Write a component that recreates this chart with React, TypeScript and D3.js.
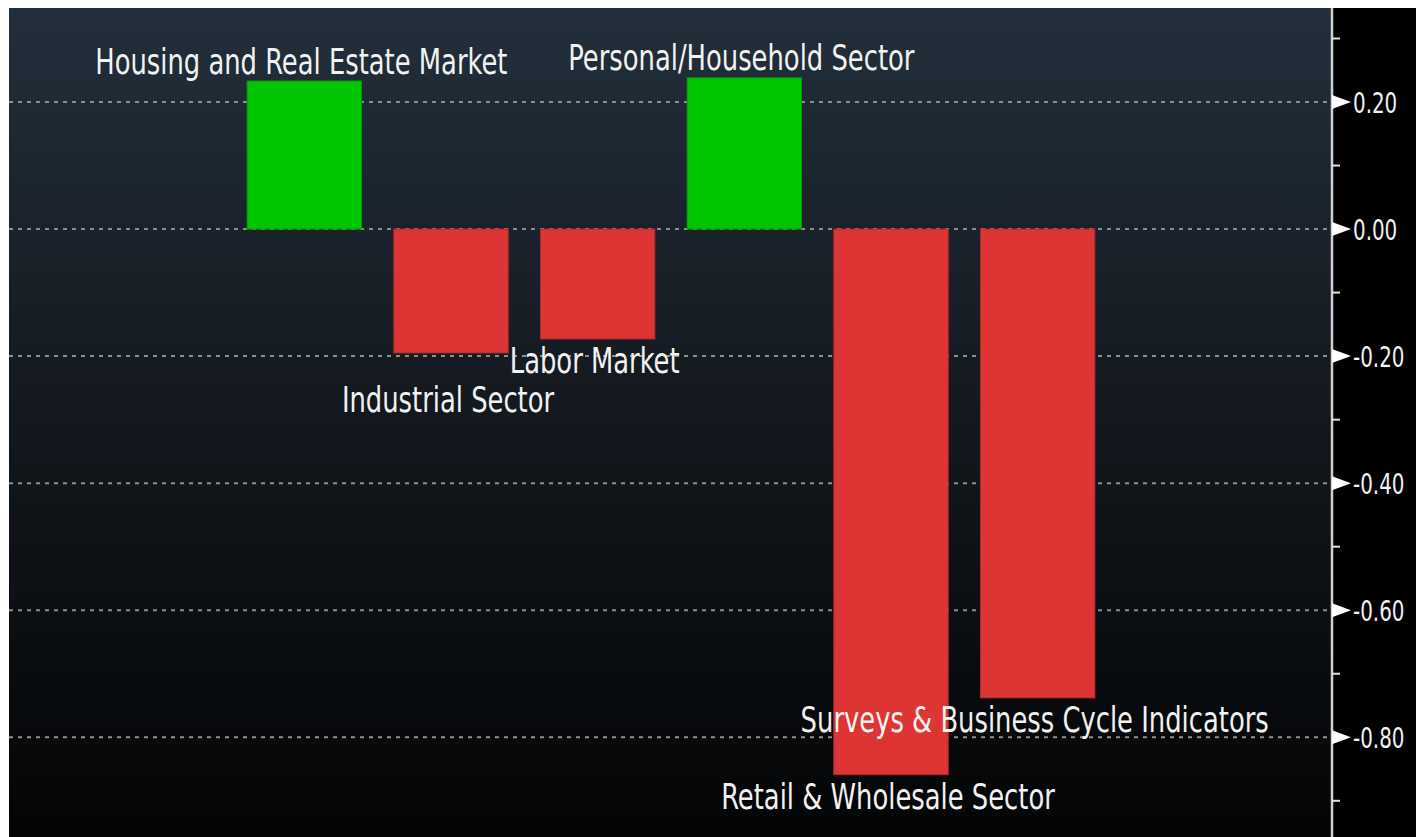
import React from 'react';
import * as d3 from 'd3';

// values
const categories = [
  'Housing and Real Estate Market',
  'Industrial Sector',
  'Labor Market',
  'Personal/Household Sector',
  'Retail & Wholesale Sector',
  'Surveys & Business Cycle Indicators',
];
const values = [0.233, -0.195, -0.173, 0.238, -0.859, -0.738];
const majorTicks = [0.2, 0, -0.2, -0.4, -0.6, -0.8];
const minorTicks = [0.3, 0.1, -0.1, -0.3, -0.5, -0.7, -0.9];

const W = 1416;
const H = 837;
const plot = { left: 9, top: 8, right: 1332, bottom: 837 };

// no narrow font installed, so squeeze the condensed one horizontally
const FONT = '"DejaVu Sans Condensed", "DejaVu Sans", sans-serif';
const SQUEEZE = 0.82;
const fmt = d3.formatLocale({
  decimal: '.',
  thousands: ',',
  grouping: [3],
  currency: ['$', ''],
  minus: '-',
}).format('.2f');

export default function App() {
  const x = d3.scaleBand()
    .domain(categories)
    .range([231, 1111])
    .paddingInner(0.22)
    .paddingOuter(0.11);

  const y = d3.scaleLinear()
    .domain([-0.957, 0.348])
    .range([plot.bottom, plot.top]);

  const color = (v) => (v >= 0 ? '#00c600' : '#dd3434');
  const stroke = (v) => (v >= 0 ? '#0a9a0a' : '#b42828');

  // label placement: above positive bars, below negative ones, pushed apart when they collide
  const lineStep = 39;
  const labels = categories.map((c, i) => {
    const v = values[i];
    const cx = x(c) + x.bandwidth() / 2 - 3;
    const w = c.length * 14;
    const yy = v >= 0 ? y(v) - 7.5 : y(v) + 34;
    return { text: c, v, cx, x0: cx - w / 2, x1: cx + w / 2, y: yy };
  });
  const placed = [];
  labels
    .filter((l) => l.v < 0)
    .sort((a, b) => a.y - b.y)
    .forEach((l) => {
      placed.forEach((p) => {
        const overlapX = l.x0 < p.x1 && l.x1 > p.x0;
        if (overlapX && Math.abs(l.y - p.y) < lineStep) l.y = p.y + lineStep;
      });
      placed.push(l);
    });

  const zeroY = y(0);

  return (
    <svg
      width={W}
      height={H}
      style={{ position: 'fixed', left: 0, top: 0, display: 'block' }}
    >
      <defs>
        <linearGradient id="bg" x1="0" y1="0" x2="0" y2="1">
          <stop offset="0%" stopColor="#222f3b" />
          <stop offset="45%" stopColor="#141a20" />
          <stop offset="100%" stopColor="#030405" />
        </linearGradient>
      </defs>
      <rect x={0} y={0} width={W} height={H} fill="#ffffff" />
      <rect
        x={plot.left}
        y={plot.top}
        width={plot.right - plot.left}
        height={plot.bottom - plot.top}
        fill="url(#bg)"
      />
      <rect x={plot.right} y={plot.top} width={W - plot.right} height={H - plot.top} fill="#000000" />

      {/* grid */}
      {majorTicks.map((t) => (
        <line
          key={'g' + t}
          x1={plot.left}
          x2={plot.right}
          y1={y(t)}
          y2={y(t)}
          stroke="#8e8e8e"
          strokeWidth={2}
          strokeDasharray="4 5"
        />
      ))}

      {/* bars */}
      {categories.map((c, i) => {
        const v = values[i];
        const y0 = Math.min(y(v), zeroY);
        return (
          <rect
            key={c}
            x={x(c)}
            y={y0}
            width={x.bandwidth()}
            height={Math.abs(y(v) - zeroY)}
            fill={color(v)}
            stroke={stroke(v)}
            strokeWidth={1}
          />
        );
      })}

      {/* bar labels */}
      {labels.map((l) => (
        <text
          key={'l' + l.text}
          transform={`translate(${l.cx},${l.y}) scale(${SQUEEZE},1)`}
          textAnchor="middle"
          fontFamily={FONT}
          fontSize={35}
          fill="#f2f2f2"
        >
          {l.text}
        </text>
      ))}

      {/* right axis */}
      <line x1={plot.right} x2={plot.right} y1={plot.top} y2={H} stroke="#d0d0d0" strokeWidth={2.5} />
      {minorTicks.map((t) => (
        <line
          key={'m' + t}
          x1={plot.right}
          x2={plot.right + 8}
          y1={y(t)}
          y2={y(t)}
          stroke="#e0e0e0"
          strokeWidth={2}
        />
      ))}
      {majorTicks.map((t) => (
        <g key={'t' + t} transform={`translate(${plot.right},${y(t)})`}>
          <path d="M0,-7 L19,0 L0,7 Z" fill="#ffffff" />
          <text
            transform={`translate(21,11) scale(0.79,1)`}
            fontFamily={FONT}
            fontSize={28}
            fill="#f2f2f2"
          >
            {fmt(t)}
          </text>
        </g>
      ))}
    </svg>
  );
}
